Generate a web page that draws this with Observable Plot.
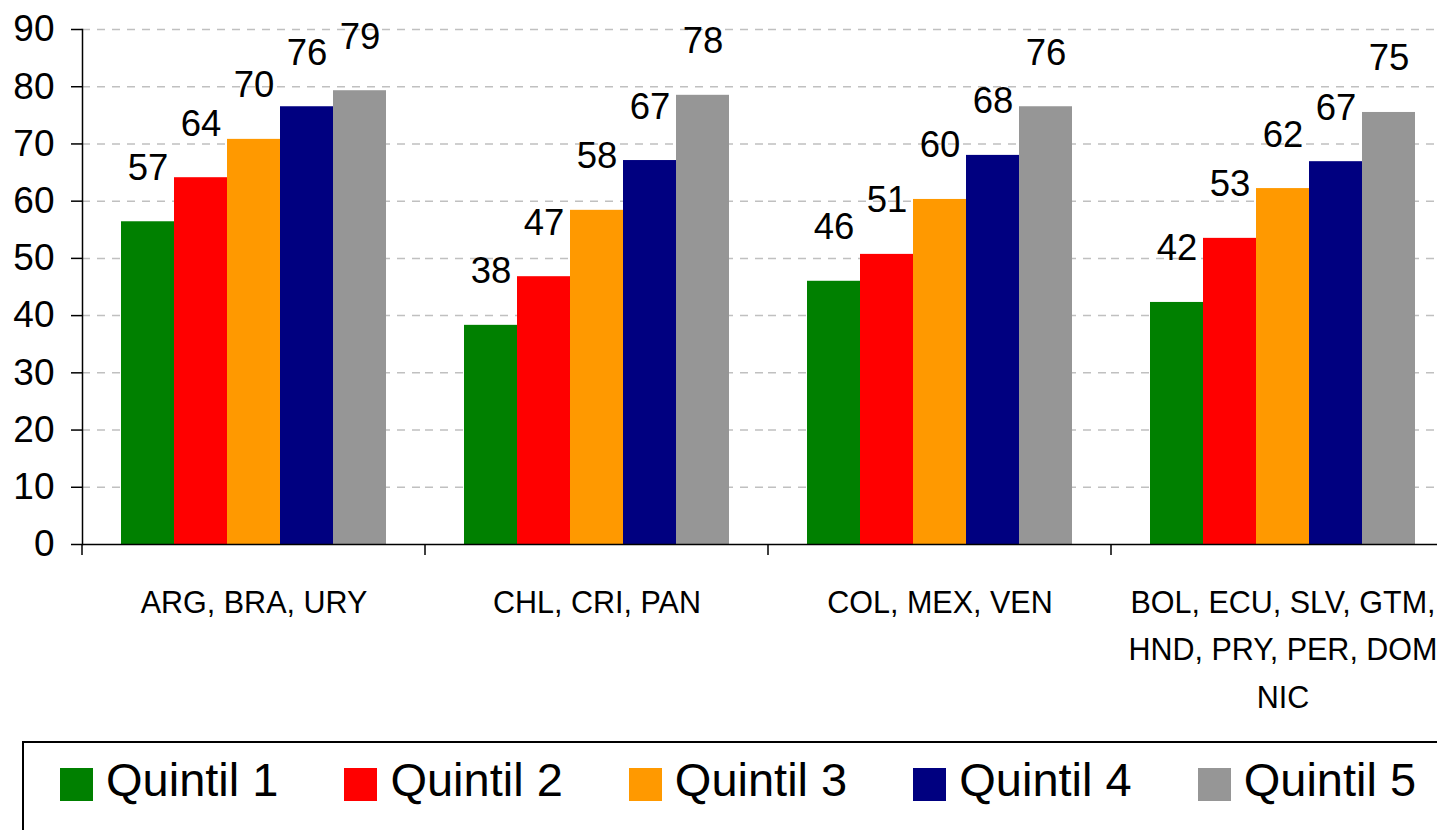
<!DOCTYPE html>
<html>
<head>
<meta charset="utf-8">
<script src="https://cdn.jsdelivr.net/npm/d3@7"></script>
<script src="https://cdn.jsdelivr.net/npm/@observablehq/plot@0.6"></script>
<style>
  html, body { margin: 0; padding: 0; background: #fff; overflow: hidden; }
  body { width: 1437px; height: 830px; font-family: "Liberation Sans", Arial, sans-serif; }
  #chart svg { max-width: none !important; display: block; }
  #legend {
    position: relative; margin-left: 22px; width: 1500px; height: 120px;
    border: 2px solid #000; box-sizing: border-box;
    display: flex; align-items: flex-start; padding-left: 36px;
  }
  .item { display: flex; align-items: flex-start; margin-right: 66px; }
  .sw { width: 33px; height: 33px; margin-top: 25px; margin-right: 13px; }
  .lb { font-size: 47px; line-height: 47px; margin-top: 13px; color: #000; white-space: nowrap; }
</style>
</head>
<body>
<div id="chart"></div>
<div id="legend"></div>
<script>
// ---- data ----
const groups = ["G1", "G2", "G3", "G4"];
const groupLabels = [
  "ARG, BRA, URY",
  "CHL, CRI, PAN",
  "COL, MEX, VEN",
  "BOL, ECU, SLV, GTM,\nHND, PRY, PER, DOM\nNIC"
];
const quintiles = ["Quintil 1", "Quintil 2", "Quintil 3", "Quintil 4", "Quintil 5"];
const colors = ["#008000", "#ff0000", "#ff9900", "#000080", "#969696"];
const q1 = [56.4, 38.3, 46.0, 42.3];
const q2 = [64.1, 46.8, 50.7, 53.5];
const q3 = [70.8, 58.4, 60.3, 62.2];
const q4 = [76.5, 67.1, 68.0, 66.9];
const q5 = [79.3, 78.5, 76.5, 75.5];
const l1 = ["57", "38", "46", "42"];
const l2 = ["64", "47", "51", "53"];
const l3 = ["70", "58", "60", "62"];
const l4 = ["76", "67", "68", "67"];
const l5 = ["79", "78", "76", "75"];
const yTicks = [0, 10, 20, 30, 40, 50, 60, 70, 80, 90];

const series = [q1, q2, q3, q4, q5];
const labels = [l1, l2, l3, l4, l5];
const rows = [];
groups.forEach((g, gi) => {
  quintiles.forEach((q, qi) => {
    rows.push({group: g, quintil: q, value: series[qi][gi], label: labels[qi][gi]});
  });
});
const groupRows = groups.map((g, i) => ({group: g, label: groupLabels[i]}));

const FONT = "Liberation Sans, Arial, sans-serif";

const plot = Plot.plot({
  width: 1477,
  height: 741,
  marginLeft: 82,
  marginRight: 23,
  marginTop: 29,
  marginBottom: 197,
  style: {fontFamily: FONT, background: "#fff", overflow: "visible", maxWidth: "none"},
  fx: {domain: groups, padding: 0, axis: null},
  x: {domain: quintiles, paddingInner: 0, paddingOuter: 0.7, axis: null},
  y: {domain: [0, 90], axis: null},
  color: {domain: quintiles, range: colors},
  marks: [
    Plot.gridY(yTicks.slice(1), {stroke: "#c0c0c0", strokeOpacity: 1, strokeWidth: 1.5, strokeDasharray: "8,7"}),
    Plot.barY(rows, {fx: "group", x: "quintil", y: "value", fill: "quintil", inset: 0}),
    Plot.text(rows, {fx: "group", x: "quintil", y: "value", text: "label", lineAnchor: "bottom", dy: -42, fontSize: 36.5, fill: "#000"}),
    Plot.ruleY([0], {stroke: "#000", strokeWidth: 1.5}),
    Plot.frame({anchor: "left", facetAnchor: "left", stroke: "#000", strokeWidth: 1.5}),
    Plot.axisY({ticks: yTicks, tickSize: 11, tickPadding: 17, fontSize: 37, stroke: "#000", strokeWidth: 1.5, fill: "#000", label: null, tickFormat: d => String(d)}),
    Plot.text(groupRows, {fx: "group", text: "label", frameAnchor: "bottom", lineAnchor: "top", dy: 35, fontSize: 30.5, lineHeight: 1.55, fill: "#000"})
  ]
});

document.getElementById("chart").appendChild(plot);

// group separator ticks along the category axis, placed with Plot's own scales
const fx = plot.scale("fx");
const y = plot.scale("y");
const y0 = y.apply(0);
const svg = d3.select(plot);
const bounds = groups.map(g => fx.apply(g)).concat([fx.apply(groups[groups.length - 1]) + fx.bandwidth]);
svg.append("g")
  .attr("stroke", "#000").attr("stroke-width", 1.5)
  .selectAll("line").data(bounds).join("line")
  .attr("x1", d => d).attr("x2", d => d)
  .attr("y1", y0).attr("y2", y0 + 11);

// legend
const legend = d3.select("#legend");
quintiles.forEach((q, i) => {
  const it = legend.append("div").attr("class", "item");
  it.append("div").attr("class", "sw").style("background", colors[i]);
  it.append("div").attr("class", "lb").text(q);
});
</script>
</body>
</html>
